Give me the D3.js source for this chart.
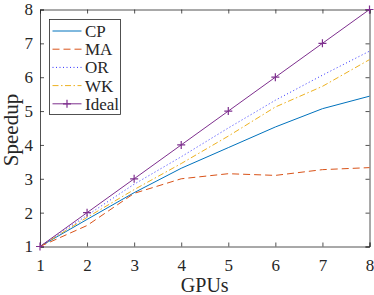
<!DOCTYPE html>
<html>
<head>
<meta charset="utf-8">
<script src="https://cdn.jsdelivr.net/npm/d3@7"></script>
<style>
  body { margin: 0; background: #fff; }
  svg text { font-family: "Liberation Serif", "Times New Roman", serif; fill: #262626; }
</style>
</head>
<body>
<div id="chart"></div>
<script>
var gpus = [1, 2, 3, 4, 5, 6, 7, 8];
var cp = [1, 1.80, 2.59, 3.31, 3.92, 4.53, 5.07, 5.44];
var ma = [1, 1.62, 2.57, 3.00, 3.15, 3.10, 3.27, 3.33];
var or = [1, 1.92, 2.84, 3.65, 4.50, 5.32, 6.06, 6.77];
var wk = [1, 1.86, 2.68, 3.45, 4.26, 5.12, 5.73, 6.52];
var ideal = [1, 2, 3, 4, 5, 6, 7, 8];
var yTicks = [1, 2, 3, 4, 5, 6, 7, 8];

var series = [
    {name: "CP", values: cp, color: "#0072BD", dash: null},
    {name: "MA", values: ma, color: "#D95319", dash: "7,4"},
    {name: "OR", values: or, color: "#3030ff", dash: "1,2.5"},
    {name: "WK", values: wk, color: "#EDB120", dash: "6,2.5,1.5,2.5"},
    {name: "Ideal", values: ideal, color: "#7E2F8E", dash: null, marker: true}
];

const WIDTH = 374;
const HEIGHT = 295;
var margin = {top: 9.5, right: 4.5, bottom: 48.5, left: 40};
var w = WIDTH - margin.left - margin.right;
var h = HEIGHT - margin.top - margin.bottom;

var svg = d3.select("#chart").append("svg")
    .attr("width", WIDTH)
    .attr("height", HEIGHT);
var g = svg.append("g")
    .attr("transform", "translate(" + margin.left + "," + margin.top + ")");

var x = d3.scaleLinear().domain([1, 8]).range([0, w]);
var y = d3.scaleLinear().domain([1, 8]).range([h, 0]);

// axes, ticks pointing inward like matlab
var axisColor = "#262626";
function styleAxis(sel) {
    sel.select(".domain").attr("stroke", axisColor).attr("stroke-width", 0.8);
    sel.selectAll(".tick line").attr("stroke", axisColor).attr("stroke-width", 0.8);
    sel.selectAll(".tick text").attr("font-size", "17px")
        .attr("font-family", "Liberation Serif").style("fill", axisColor);
}

g.append("g").attr("transform", "translate(0," + h + ")")
    .call(d3.axisBottom(x).tickValues(gpus).tickSize(-4).tickPadding(12).tickFormat(d3.format("d")))
    .call(styleAxis);
g.append("g")
    .call(d3.axisTop(x).tickValues(gpus).tickSize(-4).tickFormat(""))
    .call(styleAxis);
g.append("g")
    .call(d3.axisLeft(y).tickValues(yTicks).tickSize(-4).tickPadding(7).tickFormat(d3.format("d")))
    .call(styleAxis);
g.append("g").attr("transform", "translate(" + w + ",0)")
    .call(d3.axisRight(y).tickValues(yTicks).tickSize(-4).tickFormat(""))
    .call(styleAxis);

// axis labels
svg.append("text")
    .attr("x", margin.left + w / 2)
    .attr("y", 291.5)
    .attr("text-anchor", "middle")
    .attr("font-size", "20px")
    .text("GPUs");
svg.append("text")
    .attr("transform", "translate(17.5,130) rotate(-90)")
    .attr("text-anchor", "middle")
    .attr("font-size", "21px")
    .text("Speedup");

var line = d3.line()
    .x(function(d, i) { return x(gpus[i]); })
    .y(function(d) { return y(d); });

series.forEach(function(s) {
    g.append("path")
        .datum(s.values)
        .attr("fill", "none")
        .attr("stroke", s.color)
        .attr("stroke-width", 1)
        .attr("stroke-dasharray", s.dash)
        .attr("d", line);
    if (s.marker) {
        g.selectAll(".mk").data(s.values).enter().append("path")
            .attr("d", "M-4,0H4M0,-4V4")
            .attr("stroke", s.color)
            .attr("stroke-width", 1.2)
            .attr("transform", function(d, i) { return "translate(" + x(gpus[i]) + "," + y(d) + ")"; });
    }
});

// legend
var lg = svg.append("g").attr("transform", "translate(49.5,19.5)");
lg.append("rect")
    .attr("width", 71)
    .attr("height", 95)
    .attr("fill", "#fff")
    .attr("stroke", axisColor)
    .attr("stroke-width", 0.8);
series.forEach(function(s, i) {
    var ly = 11.5 + i * 18.2;
    lg.append("line")
        .attr("x1", 3).attr("x2", 32)
        .attr("y1", ly).attr("y2", ly)
        .attr("stroke", s.color)
        .attr("stroke-width", 1)
        .attr("stroke-dasharray", s.dash);
    if (s.marker) {
        lg.append("path")
            .attr("d", "M-4,0H4M0,-4V4")
            .attr("stroke", s.color)
            .attr("stroke-width", 1.2)
            .attr("transform", "translate(17.5," + ly + ")");
    }
    lg.append("text")
        .attr("x", 35.5)
        .attr("y", ly + 6)
        .attr("font-size", "17px")
        .text(s.name);
});
</script>
</body>
</html>
